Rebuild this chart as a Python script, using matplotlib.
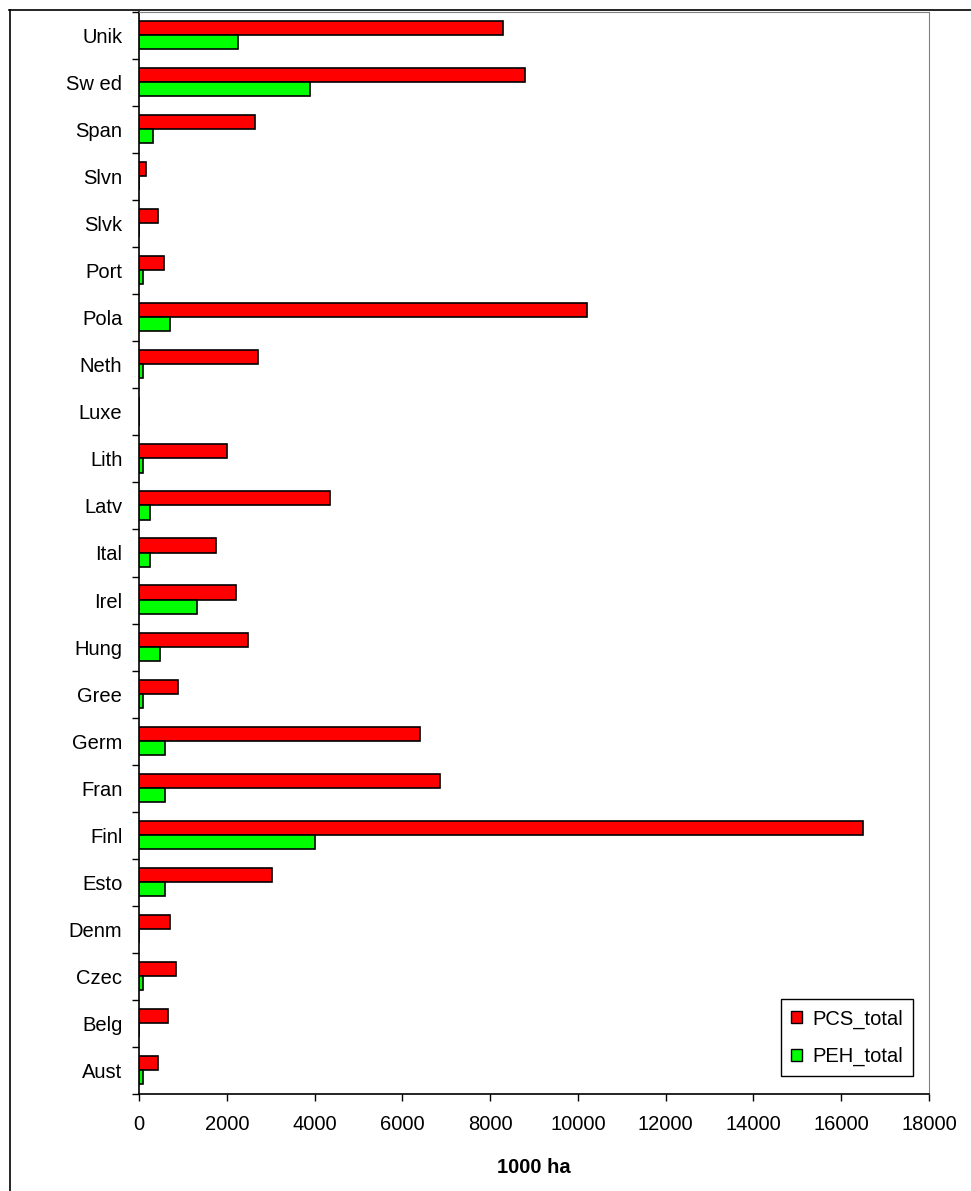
import numpy as np
import matplotlib
matplotlib.use('Agg')
import matplotlib.pyplot as plt
from matplotlib.patches import Patch
from matplotlib.lines import Line2D

plt.rcParams['font.family'] = ['Liberation Sans', 'DejaVu Sans']

# land codes, listed bottom to top as they appear
countries = ['Aust', 'Belg', 'Czec', 'Denm', 'Esto', 'Finl', 'Fran', 'Germ',
             'Gree', 'Hung', 'Irel', 'Ital', 'Latv', 'Lith', 'Luxe', 'Neth',
             'Pola', 'Port', 'Slvk', 'Slvn', 'Span', 'Sw ed', 'Unik']
pcs_total = [430, 650, 840, 700, 3020, 16500, 6850, 6400,
             880, 2480, 2200, 1750, 4350, 2000, 0, 2700,
             10200, 560, 430, 150, 2650, 8800, 8300]
peh_total = [100, 0, 100, 0, 600, 4000, 600, 600,
             100, 470, 1330, 250, 250, 100, 0, 100,
             700, 100, 0, 0, 330, 3900, 2250]

W, H = 971, 1191
fig = plt.figure(figsize=(W / 100, H / 100), dpi=100)
ax = fig.add_axes([139 / W, 1 - 1094 / H, 790 / W, 1082 / H])

y = np.arange(len(countries))
bh = 0.30
ax.barh(y + 0.16, pcs_total, height=bh, color='#FF0000', edgecolor='black', linewidth=1.2, label='PCS_total')
ax.barh(y - 0.14, peh_total, height=bh, color='#00FF00', edgecolor='black', linewidth=1.2, label='PEH_total')

ax.set_xlim(0, 18000)
ax.set_ylim(-0.5, len(countries) - 0.5)
ax.set_xticks(np.arange(0, 18001, 2000))
ax.set_yticks(y)
ax.set_yticklabels(countries)
ax.set_yticks(np.arange(-0.5, len(countries), 1.0), minor=True)
ax.tick_params(axis='y', which='major', length=0, pad=12, labelsize=14.5)
ax.tick_params(axis='y', which='minor', length=5, width=1, direction='out')
ax.tick_params(axis='x', length=5, width=1, direction='out', pad=10, labelsize=14.5)

for s in ['top', 'right']:
    ax.spines[s].set_color('#808080')
for s in ['left', 'bottom']:
    ax.spines[s].set_color('black')
    ax.spines[s].set_linewidth(1.2)

ax.set_xlabel('1000 ha', fontsize=14.5, fontweight='bold', va='center')
ax.xaxis.set_label_coords(0.5, -0.068)

handles = [Patch(facecolor='#FF0000', edgecolor='black', label='PCS_total'),
           Patch(facecolor='#00FF00', edgecolor='black', label='PEH_total')]
leg = ax.legend(handles=handles, loc='lower right', bbox_to_anchor=(0.98, 0.0166),
                fontsize=14.5, fancybox=False, edgecolor='black', framealpha=1,
                handlelength=0.55, handleheight=0.55, handletextpad=0.5,
                labelspacing=0.9, borderpad=0.5, borderaxespad=0)
leg.get_frame().set_linewidth(1)

# outer chart border (left and top edges visible)
fig.add_artist(Line2D([9.5 / W, 9.5 / W], [0, 1 - 10 / H], color='black', lw=1.2, transform=fig.transFigure))
fig.add_artist(Line2D([9 / W, 1], [1 - 10 / H, 1 - 10 / H], color='black', lw=1.2, transform=fig.transFigure))

plt.savefig('out.png', dpi=100)
plt.close()
